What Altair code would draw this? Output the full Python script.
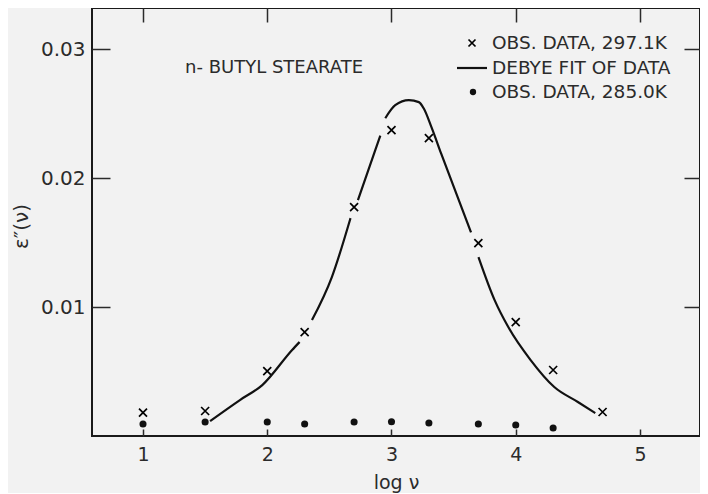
import altair as alt
import pandas as pd

# ---- data ----
obs297_logv = [1.0, 1.5, 2.0, 2.301, 2.699, 3.0, 3.301, 3.699, 4.0, 4.301, 4.699]
obs297_eps = [0.00181, 0.00194, 0.00504, 0.00806, 0.01775, 0.02372, 0.0231, 0.01496, 0.00884, 0.00512, 0.00186]

obs285_logv = [1.0, 1.5, 2.0, 2.301, 2.699, 3.0, 3.301, 3.699, 4.0, 4.301]
obs285_eps = [0.00093, 0.00109, 0.00109, 0.00093, 0.00109, 0.0011, 0.00101, 0.00093, 0.00085, 0.00062]

# Debye fit curve (drawn with small breaks around the observed crosses)
fit_logv = [1.54, 1.78, 1.96, 2.20, 2.26,
            2.36, 2.52, 2.67,
            2.73, 2.87, 2.91,
            2.95, 3.03, 3.14, 3.22, 3.26, 3.32, 3.40, 3.64,
            3.70, 3.83, 3.94, 4.12, 4.31, 4.50, 4.64]
fit_eps = [0.00116, 0.00279, 0.00395, 0.00667, 0.00729,
           0.00899, 0.01233, 0.0169,
           0.0183, 0.0222, 0.0233,
           0.02465, 0.02566, 0.02605, 0.0259, 0.0254, 0.0240, 0.0219, 0.0158,
           0.01388, 0.01054, 0.00845, 0.00589, 0.0038, 0.00264, 0.00178]
fit_seg = [1] * 5 + [2] * 3 + [3] * 3 + [4] * 8 + [5] * 7

x_ticks = [1, 2, 3, 4, 5]
y_ticks = [0.01, 0.02, 0.03]
legend_labels = ["OBS. DATA, 297.1K", "DEBYE FIT OF DATA", "OBS. DATA, 285.0K"]
title_text = "n- BUTYL  STEARATE"

df297 = pd.DataFrame({"logv": obs297_logv, "eps": obs297_eps})
df285 = pd.DataFrame({"logv": obs285_logv, "eps": obs285_eps})
dffit = pd.DataFrame({"logv": fit_logv, "eps": fit_eps, "seg": fit_seg})

FONT = "DejaVu Sans"
INK = "#2b2b2b"
XPATH = "M-1,-1L1,1M-1,1L1,-1"

xs = alt.Scale(domain=[0.5895, 5.483], nice=False, zero=False)
ys = alt.Scale(domain=[0, 0.0332], nice=False, zero=False)

common = dict(grid=False, domain=False, tickColor=INK, tickWidth=1.5)

crosses = alt.Chart(df297).mark_point(
    shape=XPATH, size=64, filled=False, stroke="#000", strokeWidth=1.7, opacity=1
).encode(
    x=alt.X("logv:Q", scale=xs, axis=alt.Axis(
        orient="bottom", values=x_ticks, format="d", ticks=False, tickSize=0,
        labelPadding=9, labelFontSize=19, labelFont=FONT, labelColor=INK,
        title="log ν", titleFont=FONT, titleFontSize=19, titleFontWeight="normal",
        titleColor=INK, titlePadding=9, **common)),
    y=alt.Y("eps:Q", scale=ys, axis=alt.Axis(
        orient="left", values=y_ticks, format=".2f", ticks=False, tickSize=0,
        labelPadding=7, labelFontSize=20, labelFont=FONT, labelColor=INK,
        title="ε″(ν)", titleFont=FONT, titleFontSize=20, titleFontWeight="normal",
        titleColor=INK, titleX=-71, titleY=218, titleAngle=270, titleAlign="center",
        titleBaseline="middle", **common)),
)

dots = alt.Chart(df285).mark_circle(size=50, color="#111", opacity=1).encode(
    x=alt.X("logv:Q", scale=xs, axis=alt.Axis(
        orient="bottom", values=x_ticks, offset=-7, tickSize=7, labels=False,
        title=None, **common)),
    y=alt.Y("eps:Q", scale=ys, axis=alt.Axis(
        orient="left", values=y_ticks, offset=-18, tickSize=18, labels=False,
        title=None, **common)),
)

curve = alt.Chart(dffit).mark_line(
    color="#111", strokeWidth=2.2, interpolate="monotone"
).encode(
    x=alt.X("logv:Q", scale=xs, axis=alt.Axis(
        orient="top", values=x_ticks, offset=-14, tickSize=14, labels=False,
        title=None, **common)),
    y=alt.Y("eps:Q", scale=ys, axis=alt.Axis(
        orient="right", values=y_ticks, offset=-16, tickSize=16, labels=False,
        title=None, **common)),
    detail="seg:N",
)

one = alt.Data(values=[{}])

def label(txt, px, py, size=18):
    return alt.Chart(one).mark_text(
        align="left", baseline="middle", font=FONT, fontSize=size, color=INK
    ).encode(x=alt.value(px), y=alt.value(py), text=alt.value(txt))

title_mark = label(title_text, 93, 60, 18)
leg1 = label(legend_labels[0], 400, 35, 18.5)
leg2 = label(legend_labels[1], 400, 60, 18.5)
leg3 = label(legend_labels[2], 400, 84, 18.5)

leg_cross = alt.Chart(one).mark_point(
    shape=XPATH, size=49, filled=False, stroke="#000", strokeWidth=1.7, opacity=1
).encode(x=alt.value(380), y=alt.value(35))
leg_line = alt.Chart(one).mark_rule(color="#111", strokeWidth=2.2).encode(
    x=alt.value(365), x2=alt.value(395), y=alt.value(60))
leg_dot = alt.Chart(one).mark_circle(size=40, color="#111", opacity=1).encode(
    x=alt.value(381), y=alt.value(84))

chart = alt.layer(
    crosses, dots, curve, title_mark, leg1, leg2, leg3, leg_cross, leg_line, leg_dot
).resolve_axis(x="independent", y="independent").properties(
    width=608, height=428,
    autosize=alt.AutoSizeParams(type="none"),
    padding={"left": 84, "top": 0, "right": 0, "bottom": 57},
    background="#f2f2f2",
).configure_view(stroke="#1a1a1a", strokeWidth=2)

chart.save("out.html", embed_options={"renderer": "svg", "actions": False})
